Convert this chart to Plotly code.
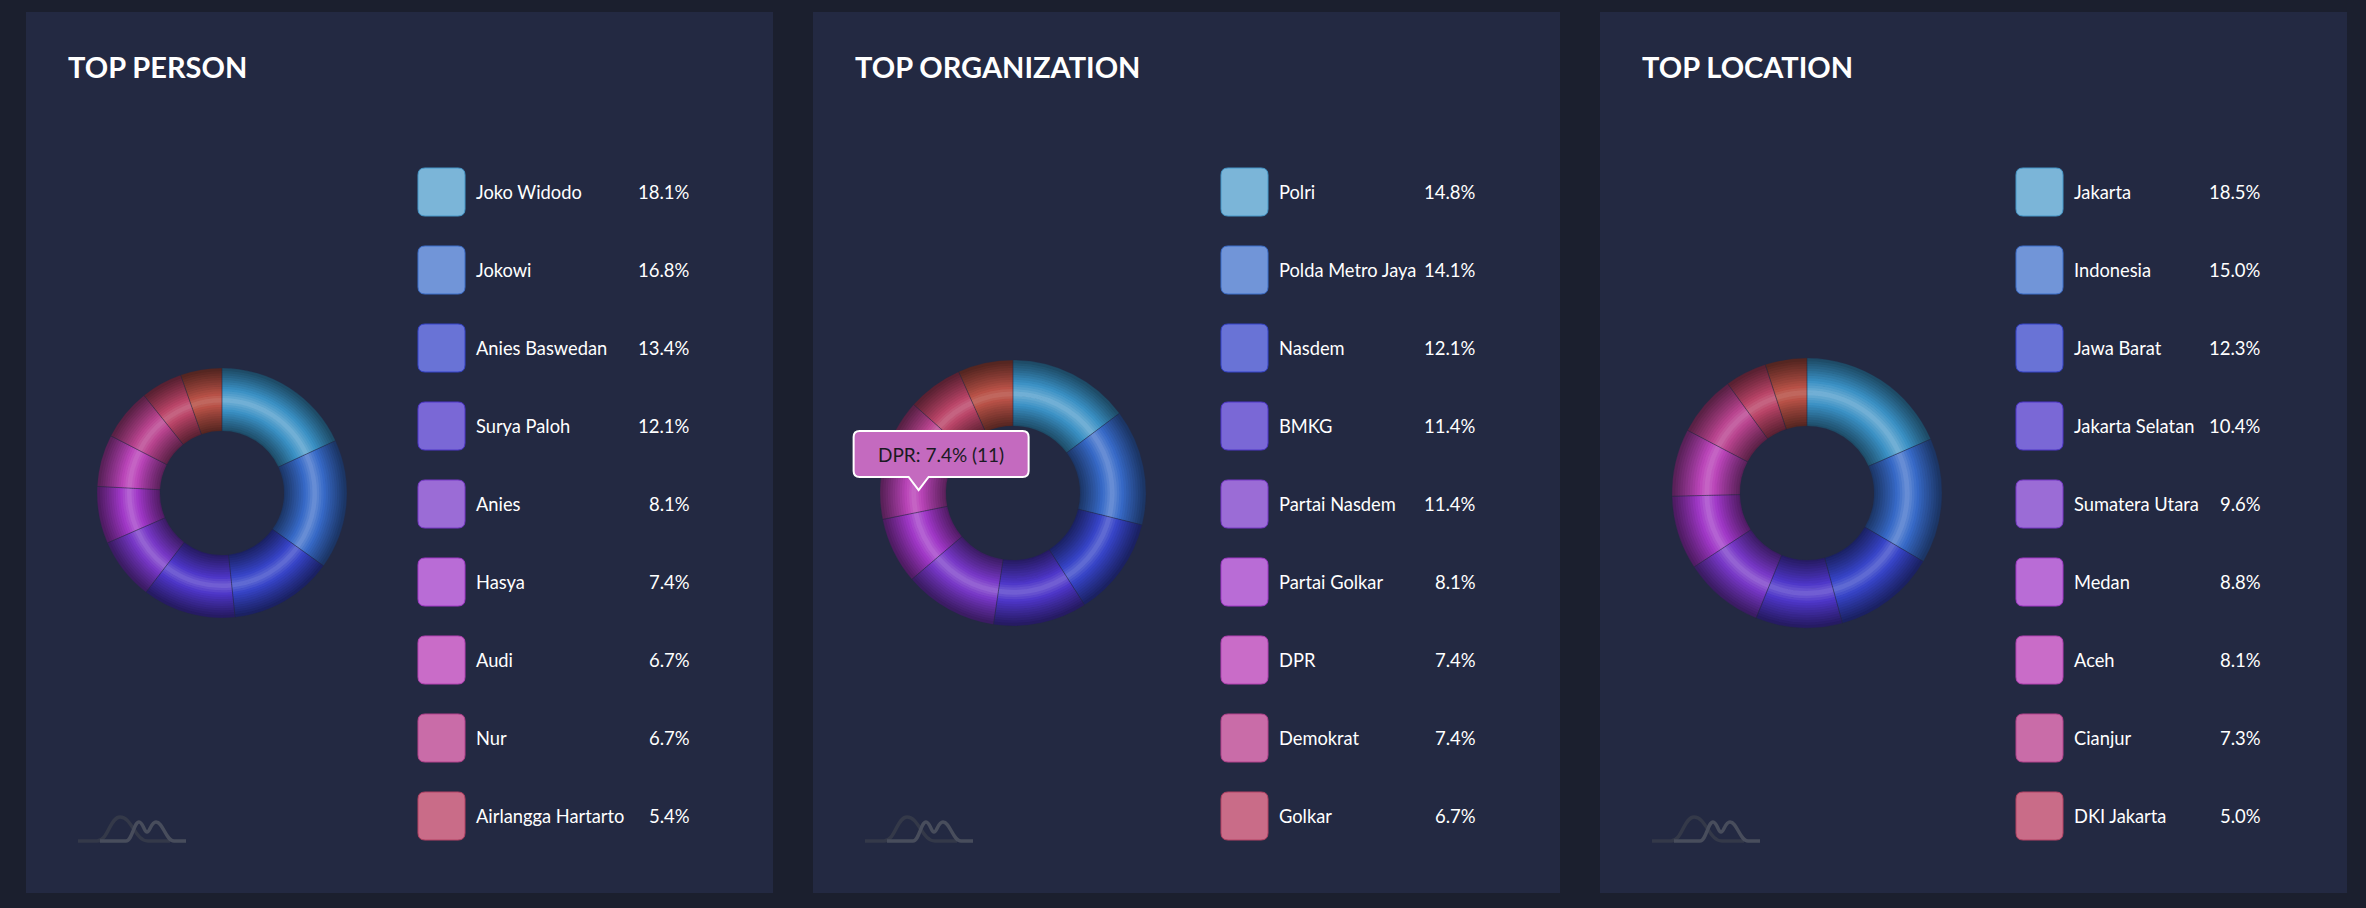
import colorsys
import math
import plotly.graph_objects as go

# ---------------- data ----------------
person_names = ["Joko Widodo", "Jokowi", "Anies Baswedan", "Surya Paloh", "Anies",
                "Hasya", "Audi", "Nur", "Airlangga Hartarto", "Lainnya"]
person_counts = [27, 25, 20, 18, 12, 11, 10, 10, 8, 8]

org_names = ["Polri", "Polda Metro Jaya", "Nasdem", "BMKG", "Partai Nasdem",
             "Partai Golkar", "DPR", "Demokrat", "Golkar", "Lainnya"]
org_counts = [22, 21, 18, 17, 17, 12, 11, 11, 10, 10]

loc_names = ["Jakarta", "Indonesia", "Jawa Barat", "Jakarta Selatan", "Sumatera Utara",
             "Medan", "Aceh", "Cianjur", "DKI Jakarta", "Lainnya"]
loc_counts = [48, 39, 32, 27, 25, 23, 21, 19, 13, 13]

titles = ["TOP PERSON", "TOP ORGANIZATION", "TOP LOCATION"]
legend_rows = 9
tooltip_item = ("TOP ORGANIZATION", "DPR")

palette = ["#7bb5d8", "#7195d8", "#6973d6", "#7a68d6", "#9b6cd6",
           "#b96cd6", "#c96cc8", "#c96ca8", "#c96c88", "#c46f66"]

# ---------------- layout constants ----------------
W, H = 2366, 908
BG = "#1b1f2e"
PANEL = "#232942"
FONT = "Lato, 'Noto Sans', sans-serif"

panels = [
    dict(x0=26, x1=773, names=person_names, counts=person_counts, title=titles[0],
         cx=222, R=125, r=62, sq=418, lab=474, pct=692),
    dict(x0=813, x1=1560, names=org_names, counts=org_counts, title=titles[1],
         cx=1013, R=133, r=67, sq=1221, lab=1277, pct=1478),
    dict(x0=1600, x1=2347, names=loc_names, counts=loc_counts, title=titles[2],
         cx=1807, R=135, r=67, sq=2016, lab=2072, pct=2263),
]
CY = 493
PY0, PY1 = 12, 893


def X(px):
    return px / W


def Y(py):
    return 1 - py / H


def shade(hexcol, f):
    h = hexcol.lstrip("#")
    r, g, b = (int(h[i:i + 2], 16) / 255 for i in (0, 2, 4))
    hh, ll, ss = colorsys.rgb_to_hls(r, g, b)
    r2, g2, b2 = colorsys.hls_to_rgb(hh, max(0, min(1, ll * f)), ss)
    return "#%02x%02x%02x" % (int(r2 * 255), int(g2 * 255), int(b2 * 255))


def rrect(x0, y0, x1, y1, rad):
    pts = [
        f"M {X(x0 + rad)},{Y(y0)}", f"L {X(x1 - rad)},{Y(y0)}",
        f"Q {X(x1)},{Y(y0)} {X(x1)},{Y(y0 + rad)}", f"L {X(x1)},{Y(y1 - rad)}",
        f"Q {X(x1)},{Y(y1)} {X(x1 - rad)},{Y(y1)}", f"L {X(x0 + rad)},{Y(y1)}",
        f"Q {X(x0)},{Y(y1)} {X(x0)},{Y(y1 - rad)}", f"L {X(x0)},{Y(y0 + rad)}",
        f"Q {X(x0)},{Y(y0)} {X(x0 + rad)},{Y(y0)}", "Z",
    ]
    return " ".join(pts)


fig = go.Figure()
shapes = []
annotations = []

NL = 28
for p in panels:
    # panel background
    shapes.append(dict(type="rect", xref="paper", yref="paper", layer="below",
                       x0=X(p["x0"]), x1=X(p["x1"]), y0=Y(PY1), y1=Y(PY0),
                       fillcolor=PANEL, line=dict(width=0)))
    # title
    annotations.append(dict(text=f"<b>{p['title']}</b>", xref="paper", yref="paper",
                            x=X(p["x0"] + 40), y=Y(67), xanchor="left", yanchor="middle",
                            showarrow=False, font=dict(family=FONT, size=29, color="#ffffff")))
    cols = palette[:len(p["counts"])]
    total = sum(p["counts"])
    # layered donut to imitate the radial gradient
    R, r, cx = p["R"], p["r"], p["cx"]
    wdt = R - r
    for i in range(NL):
        t = (i + 0.5) / NL
        f = 1 - 0.62 * abs(2 * t - 1) ** 0.85
        ro = r + (i + 1) * wdt / NL
        ri = max(r, r + i * wdt / NL - 0.8)
        fig.add_trace(go.Pie(
            values=p["counts"], labels=p["names"], sort=False, direction="clockwise",
            rotation=0, hole=ri / ro, textinfo="none", hoverinfo="skip",
            showlegend=False,
            marker=dict(colors=[shade(c, f) for c in cols], line=dict(width=0)),
            domain=dict(x=[X(cx - ro), X(cx + ro)], y=[Y(CY + ro), Y(CY - ro)]),
        ))
    # thin separators overlay
    fig.add_trace(go.Pie(
        values=p["counts"], labels=p["names"], sort=False, direction="clockwise",
        rotation=0, hole=r / R, textinfo="none", showlegend=False,
        hovertemplate="%{label}: %{percent:.1%} (%{value})<extra></extra>",
        marker=dict(colors=["rgba(0,0,0,0)"] * len(cols),
                    line=dict(width=0.7, color="rgba(35,41,66,0.45)")),
        domain=dict(x=[X(cx - R), X(cx + R)], y=[Y(CY + R), Y(CY - R)]),
    ))
    # legend
    for k in range(legend_rows):
        cyk = 192 + 78 * k
        shapes.append(dict(type="path", xref="paper", yref="paper", layer="above",
                           path=rrect(p["sq"], cyk - 24, p["sq"] + 47, cyk + 24, 7),
                           fillcolor=cols[k], line=dict(width=1, color=shade(cols[k], 0.8))))
        annotations.append(dict(text=p["names"][k], xref="paper", yref="paper",
                                x=X(p["lab"]), y=Y(cyk), xanchor="left", yanchor="middle",
                                showarrow=False,
                                font=dict(family=FONT, size=18.3, color="#ffffff")))
        annotations.append(dict(text=f"{100 * p['counts'][k] / total:.1f}%",
                                xref="paper", yref="paper",
                                x=X(p["pct"]), y=Y(cyk), xanchor="right", yanchor="middle",
                                showarrow=False,
                                font=dict(family=FONT, size=18.5, color="#ffffff")))
    # logo
    lx = p["x0"] + 52
    dark = (f"M {X(lx)},{Y(841)} L {X(lx + 19)},{Y(841)} "
            f"C {X(lx + 30)},{Y(841)} {X(lx + 32)},{Y(817)} {X(lx + 42)},{Y(817)} "
            f"C {X(lx + 54)},{Y(817)} {X(lx + 57)},{Y(841)} {X(lx + 70)},{Y(841)} "
            f"L {X(lx + 92)},{Y(841)}")
    light = (f"M {X(lx + 22)},{Y(841)} L {X(lx + 48)},{Y(841)} "
             f"C {X(lx + 54)},{Y(841)} {X(lx + 56)},{Y(822)} {X(lx + 61)},{Y(822)} "
             f"C {X(lx + 65)},{Y(822)} {X(lx + 66)},{Y(832)} {X(lx + 69)},{Y(832)} "
             f"C {X(lx + 72)},{Y(832)} {X(lx + 73)},{Y(822)} {X(lx + 78)},{Y(822)} "
             f"C {X(lx + 85)},{Y(822)} {X(lx + 88)},{Y(841)} {X(lx + 96)},{Y(841)} "
             f"L {X(lx + 108)},{Y(841)}")
    shapes.append(dict(type="path", xref="paper", yref="paper", layer="above", path=dark,
                       line=dict(width=3.5, color="#343949")))
    shapes.append(dict(type="path", xref="paper", yref="paper", layer="above", path=light,
                       line=dict(width=3.5, color="#484d5c")))

    # tooltip
    if p["title"] == tooltip_item[0]:
        idx = p["names"].index(tooltip_item[1])
        start = sum(p["counts"][:idx]) / total
        mid = (start + p["counts"][idx] / total / 2) * 2 * math.pi
        rt = 0.71 * R
        tx = cx + rt * math.sin(mid)
        ty = CY - rt * math.cos(mid)
        bx0, bx1 = tx - 65, tx + 110
        by1 = ty - 13
        by0 = by1 - 46
        rad = 6
        path = (f"M {X(bx0 + rad)},{Y(by0)} L {X(bx1 - rad)},{Y(by0)} "
                f"Q {X(bx1)},{Y(by0)} {X(bx1)},{Y(by0 + rad)} L {X(bx1)},{Y(by1 - rad)} "
                f"Q {X(bx1)},{Y(by1)} {X(bx1 - rad)},{Y(by1)} "
                f"L {X(tx + 10)},{Y(by1)} L {X(tx)},{Y(ty)} L {X(tx - 10)},{Y(by1)} "
                f"L {X(bx0 + rad)},{Y(by1)} Q {X(bx0)},{Y(by1)} {X(bx0)},{Y(by1 - rad)} "
                f"L {X(bx0)},{Y(by0 + rad)} Q {X(bx0)},{Y(by0)} {X(bx0 + rad)},{Y(by0)} Z")
        shapes.append(dict(type="path", xref="paper", yref="paper", layer="above", path=path,
                           fillcolor="#c46abf", line=dict(width=2, color="#ffffff")))
        annotations.append(dict(
            text=f"{tooltip_item[1]}: {100 * p['counts'][idx] / total:.1f}% ({p['counts'][idx]})",
            xref="paper", yref="paper", x=X((bx0 + bx1) / 2), y=Y((by0 + by1) / 2),
            xanchor="center", yanchor="middle", showarrow=False,
            font=dict(family=FONT, size=19, color="#1a1a22")))

fig.update_layout(
    width=W, height=H, margin=dict(l=0, r=0, t=0, b=0),
    paper_bgcolor=BG, plot_bgcolor=BG,
    shapes=shapes, annotations=annotations, showlegend=False,
    font=dict(family=FONT, color="#ffffff"),
)
fig.write_html("out.html")
